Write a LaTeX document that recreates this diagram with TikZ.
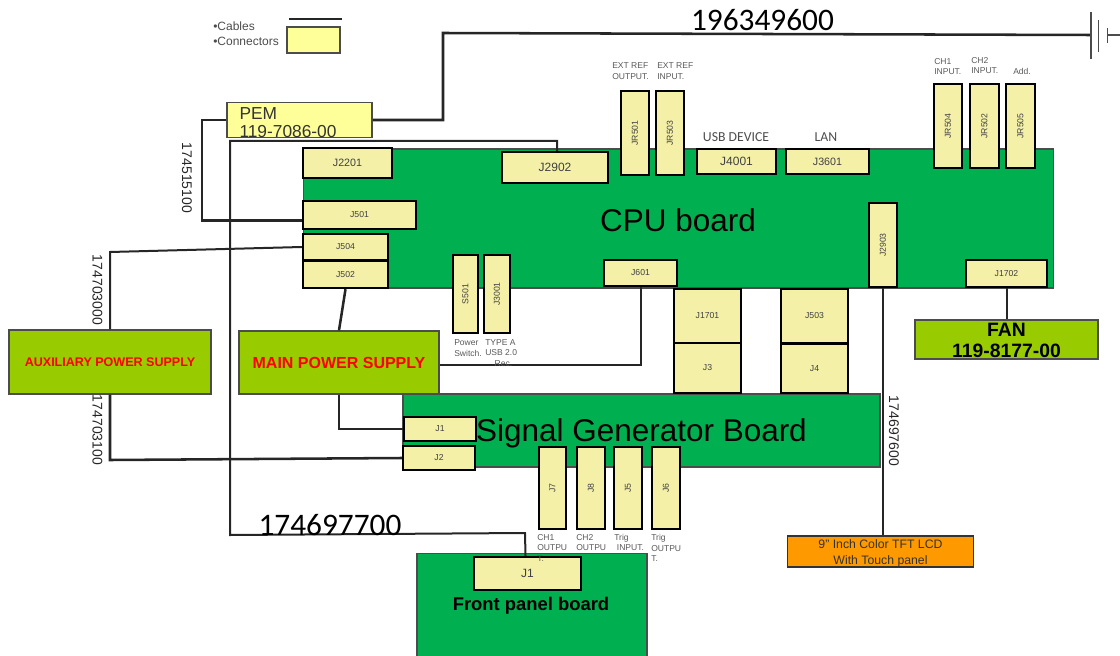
\documentclass[tikz,border=0pt]{standalone}
\usepackage{fontspec}
\setmainfont{Liberation Sans}
\newfontfamily\carlito{Carlito}
\definecolor{boardgreen}{HTML}{00B050}
\definecolor{supplygreen}{HTML}{99CC00}
\definecolor{connfill}{HTML}{F5F0A8}
\definecolor{pemfill}{HTML}{FFFF99}
\definecolor{lcdorange}{HTML}{FF9900}
\tikzset{
  board/.style={draw=black!70,line width=0.8pt,fill=boardgreen,inner sep=0pt},
  supply/.style={draw=black!70,line width=1pt,fill=supplygreen,inner sep=0pt,align=center},
  conn/.style={draw=black,line width=1.8pt,fill=connfill,inner sep=0pt,text=black!75},
  cable/.style={draw=black!85,line width=1.9pt,line join=miter},
  thincable/.style={draw=black!85,line width=1.5pt,line join=miter},
  gndline/.style={draw=black!70,line width=1.4pt},
  capt/.style={inner sep=0pt,anchor=west,align=left,text=black!65,font=\fontsize{6.4}{8.1}\selectfont},
  numlab/.style={inner sep=0pt,text=black!85,font=\fontsize{10.5}{12}\selectfont},
  biglab/.style={inner sep=0pt,font=\carlito\fontsize{23.5}{26}\selectfont},
  redlab/.style={text=red,font=\bfseries\fontsize{#1}{14}\selectfont},
}
\begin{document}
\begin{tikzpicture}[x=0.75pt,y=-0.75pt]
  \useasboundingbox (0,0) rectangle (1120,656);
  \clip (0,0) rectangle (1120,656);
  % boards
  \node[board,minimum width=562.5pt,minimum height=104.25pt] (cpu) at (678.5,218.5) {};
  \node[board,minimum width=357.75pt,minimum height=54.75pt] (siggen) at (641.5,430.5) {};
  \node[board,minimum width=172.5pt,minimum height=80pt] (front) at (532,607) {};
  \node[font=\fontsize{23.6}{26}\selectfont,inner sep=0pt] (cpulab) at (678,220) {CPU board};
  \node[font=\fontsize{23.6}{26}\selectfont,inner sep=0pt] (siglab) at (641.5,433) {Signal Generator Board};
  \node[font=\bfseries\fontsize{13.8}{16}\selectfont,inner sep=0pt] (frontlab) at (531,606) {Front panel board};
  % supplies and other units
  \node[supply,redlab=9.4,minimum width=151.5pt,minimum height=48pt] (aux) at (110,362) {AUXILIARY POWER SUPPLY};
  \node[supply,redlab=12,minimum width=150pt,minimum height=47.25pt] (main) at (339,362.5) {MAIN POWER SUPPLY};
  \node[supply,font=\bfseries\fontsize{14.5}{15.75}\selectfont,minimum width=137.25pt,minimum height=29.25pt] (fan) at (1006.5,339.5) {\rule{0pt}{11.5pt}FAN\\119-8177-00};
  \node[draw=black!80,line width=1.2pt,fill=lcdorange,inner sep=0pt,align=center,text=black!80,
    font=\fontsize{9.2}{11.4}\selectfont,minimum width=139.5pt,minimum height=23.25pt] (lcd) at (880.5,551.5)
    {\rule{0pt}{9.5pt}9" Inch Color TFT LCD\\With Touch panel};
  \node[draw=black!70,line width=1.2pt,fill=pemfill,inner sep=0pt,align=left,text=black!80,
    font=\fontsize{13}{13.5}\selectfont,text width=90pt,minimum width=108.75pt,minimum height=25.5pt] (pem) at (299.5,120)
    {\rule{0pt}{12.5pt}PEM\\119-7086-00};
  % connectors: left/top/right/bottom/name/text/font size
  \foreach \a/\b/\c/\d/\nm/\lab/\fs in {
      303/148/392/178/J2201/J2201/8, 502/152/608/183/J2902/J2902/9,
      303/201/416/229/J501/J501/6.5, 303/234/388/260/J504/J504/6.5,
      303/261/388/288/J502/J502/6.5, 604/260/677/286/J601/J601/6.5,
      697/149/776/174/J4001/J4001/9, 786/149/869/174/J3601/J3601/8,
      966/260/1047/287/J1702/J1702/6.5, 674/289/741/343/J1701/J1701/6.5,
      674/343/741/393/J3/J3/6.5, 781/289/848/343/J503/J503/6.5,
      781/344/848/393/J4/J4/6.5, 404/417/476/441/sigJ1/J1/6.5,
      403/446/475/470/sigJ2/J2/6.5, 474/557/581/590/frontJ1/J1/9}
    \node[conn,font=\fontsize{\fs}{\fs}\selectfont,minimum width={(\c-\a)*0.75pt},minimum height={(\d-\b)*0.75pt}]
      (\nm) at ({(\a+\c)/2},{(\b+\d)/2}) {\lab};
  % upright connectors with turned text
  \foreach \a/\b/\c/\d/\lab in {
      453/255/478/333/S501, 484/255/510/333/J3001, 621/91/649/175/JR501,
      656/91/684/175/JR503, 934/84/962/168/JR504, 970/84/999/168/JR502,
      1006/84/1035/168/JR505, 869/203/897/287/J2903, 539/447/566/529/J7,
      577/447/605/529/J8, 614/447/642/529/J5, 652/447/680/529/J6}
    \node[conn,font=\fontsize{6.5}{6.5}\selectfont,minimum width={(\c-\a)*0.75pt},minimum height={(\d-\b)*0.75pt}]
      (\lab) at ({(\a+\c)/2},{(\b+\d)/2}) {\rotatebox{90}{\lab}};
  % cables
  \coordinate (bend2) at (443,33);
  \coordinate (gndtop) at (1091,12);
  \coordinate (gnd) at (1091,35);
  \coordinate (gndbot) at (1091,59);
  \draw[cable] (pem.east) -| (bend2) -- (gnd);
  \draw[gndline] (gndtop) -- (gndbot);
  \draw[gndline] (1098.5,20) -- (1098.5,52);
  \draw[gndline] (1107.5,28) -- (1107.5,43);
  \draw[gndline] (1107.5,35) -- (1120,35);
  \coordinate (pemleft) at (202,121);
  \draw[cable] (pem.west) -| (pemleft) |- ([yshift=-4pt]J501.west);
  \coordinate (ribtop) at (230,141);
  \coordinate (ribbot) at (230,535);
  \coordinate (ribend) at (525,533);
  \draw[thincable] (J2902.north) ++(2,0) |- (ribtop) -- (ribbot) -- (ribend) -- ([xshift=-1.5pt]frontJ1.north);
  \coordinate (auxtop) at (110,252);
  \draw[thincable] (J504.west) -- (auxtop) -- (aux.north);
  \coordinate (auxbot) at (110,460);
  \draw[cable] (aux.south) -- (auxbot) -- (sigJ2.west);
  \draw[cable] (J502.south) -- (main.north);
  \draw[cable] (main.south) |- (sigJ1.west);
  \draw[thincable] ([yshift=-2pt]main.east) -| (J601.south);
  \draw[thincable] (J2903.south) -- (lcd.north -| J2903.south);
  \draw[thincable] (J1702.south) -- (fan.north);
  % cable numbers
  \node[numlab,rotate=-90] (num1) at (187,178) {174515100};
  \node[numlab,rotate=-90] (num2) at (97.5,290) {174703000};
  \node[numlab,rotate=-90] (num3) at (97.5,430) {174703100};
  \node[numlab,rotate=-90] (num4) at (894,431) {174697600};
  \node[biglab] (num5) at (762.5,20) {196349600};
  \node[biglab] (num6) at (330,525) {174697700};
  % captions
  \node[capt] (c1) at (612,71.5) {EXT REF\\OUTPUT.};
  \node[capt] (c2) at (657,71.5) {EXT REF\\INPUT.};
  \node[capt] (c3) at (934,66.5) {CH1\\INPUT.};
  \node[capt] (c4) at (971,65.5) {CH2\\INPUT.};
  \node[capt] (c5) at (1013,71) {Add.};
  \node[capt] (c6) at (454,348) {Power\\Switch.};
  \node[capt] (c7) at (485,353) {TYPE A\\USB 2.0\\\hspace*{7pt}Rec.};
  \node[capt] (c8) at (537,548) {CH1\\OUTPU\\T.};
  \node[capt] (c9) at (576,542.5) {CH2\\OUTPU};
  \node[capt] (c10) at (614,542.5) {Trig\\\hspace*{2pt}INPUT.};
  \node[capt] (c11) at (651,548) {Trig\\OUTPU\\T.};
  \node[inner sep=0pt,text=black!70,font=\carlito\fontsize{10.3}{12}\selectfont] (usb) at (736,137) {USB DEVICE};
  \node[inner sep=0pt,text=black!70,font=\carlito\fontsize{10.3}{12}\selectfont] (lan) at (826,137) {LAN};
  % legend
  \coordinate (lega) at (289,19);
  \coordinate (legb) at (342,19);
  \draw[cable] (lega) -- (legb);
  \node[draw=black!70,line width=1.2pt,fill=pemfill,minimum width=39.75pt,minimum height=19.5pt] (legbox) at (313.5,40) {};
  \node[inner sep=0pt,anchor=west,text=black!70,font=\fontsize{9}{11}\selectfont] (leg1) at (213,26) {•Cables};
  \node[inner sep=0pt,anchor=west,text=black!70,font=\fontsize{9}{11}\selectfont] (leg2) at (213,41) {•Connectors};
\end{tikzpicture}
\end{document}
